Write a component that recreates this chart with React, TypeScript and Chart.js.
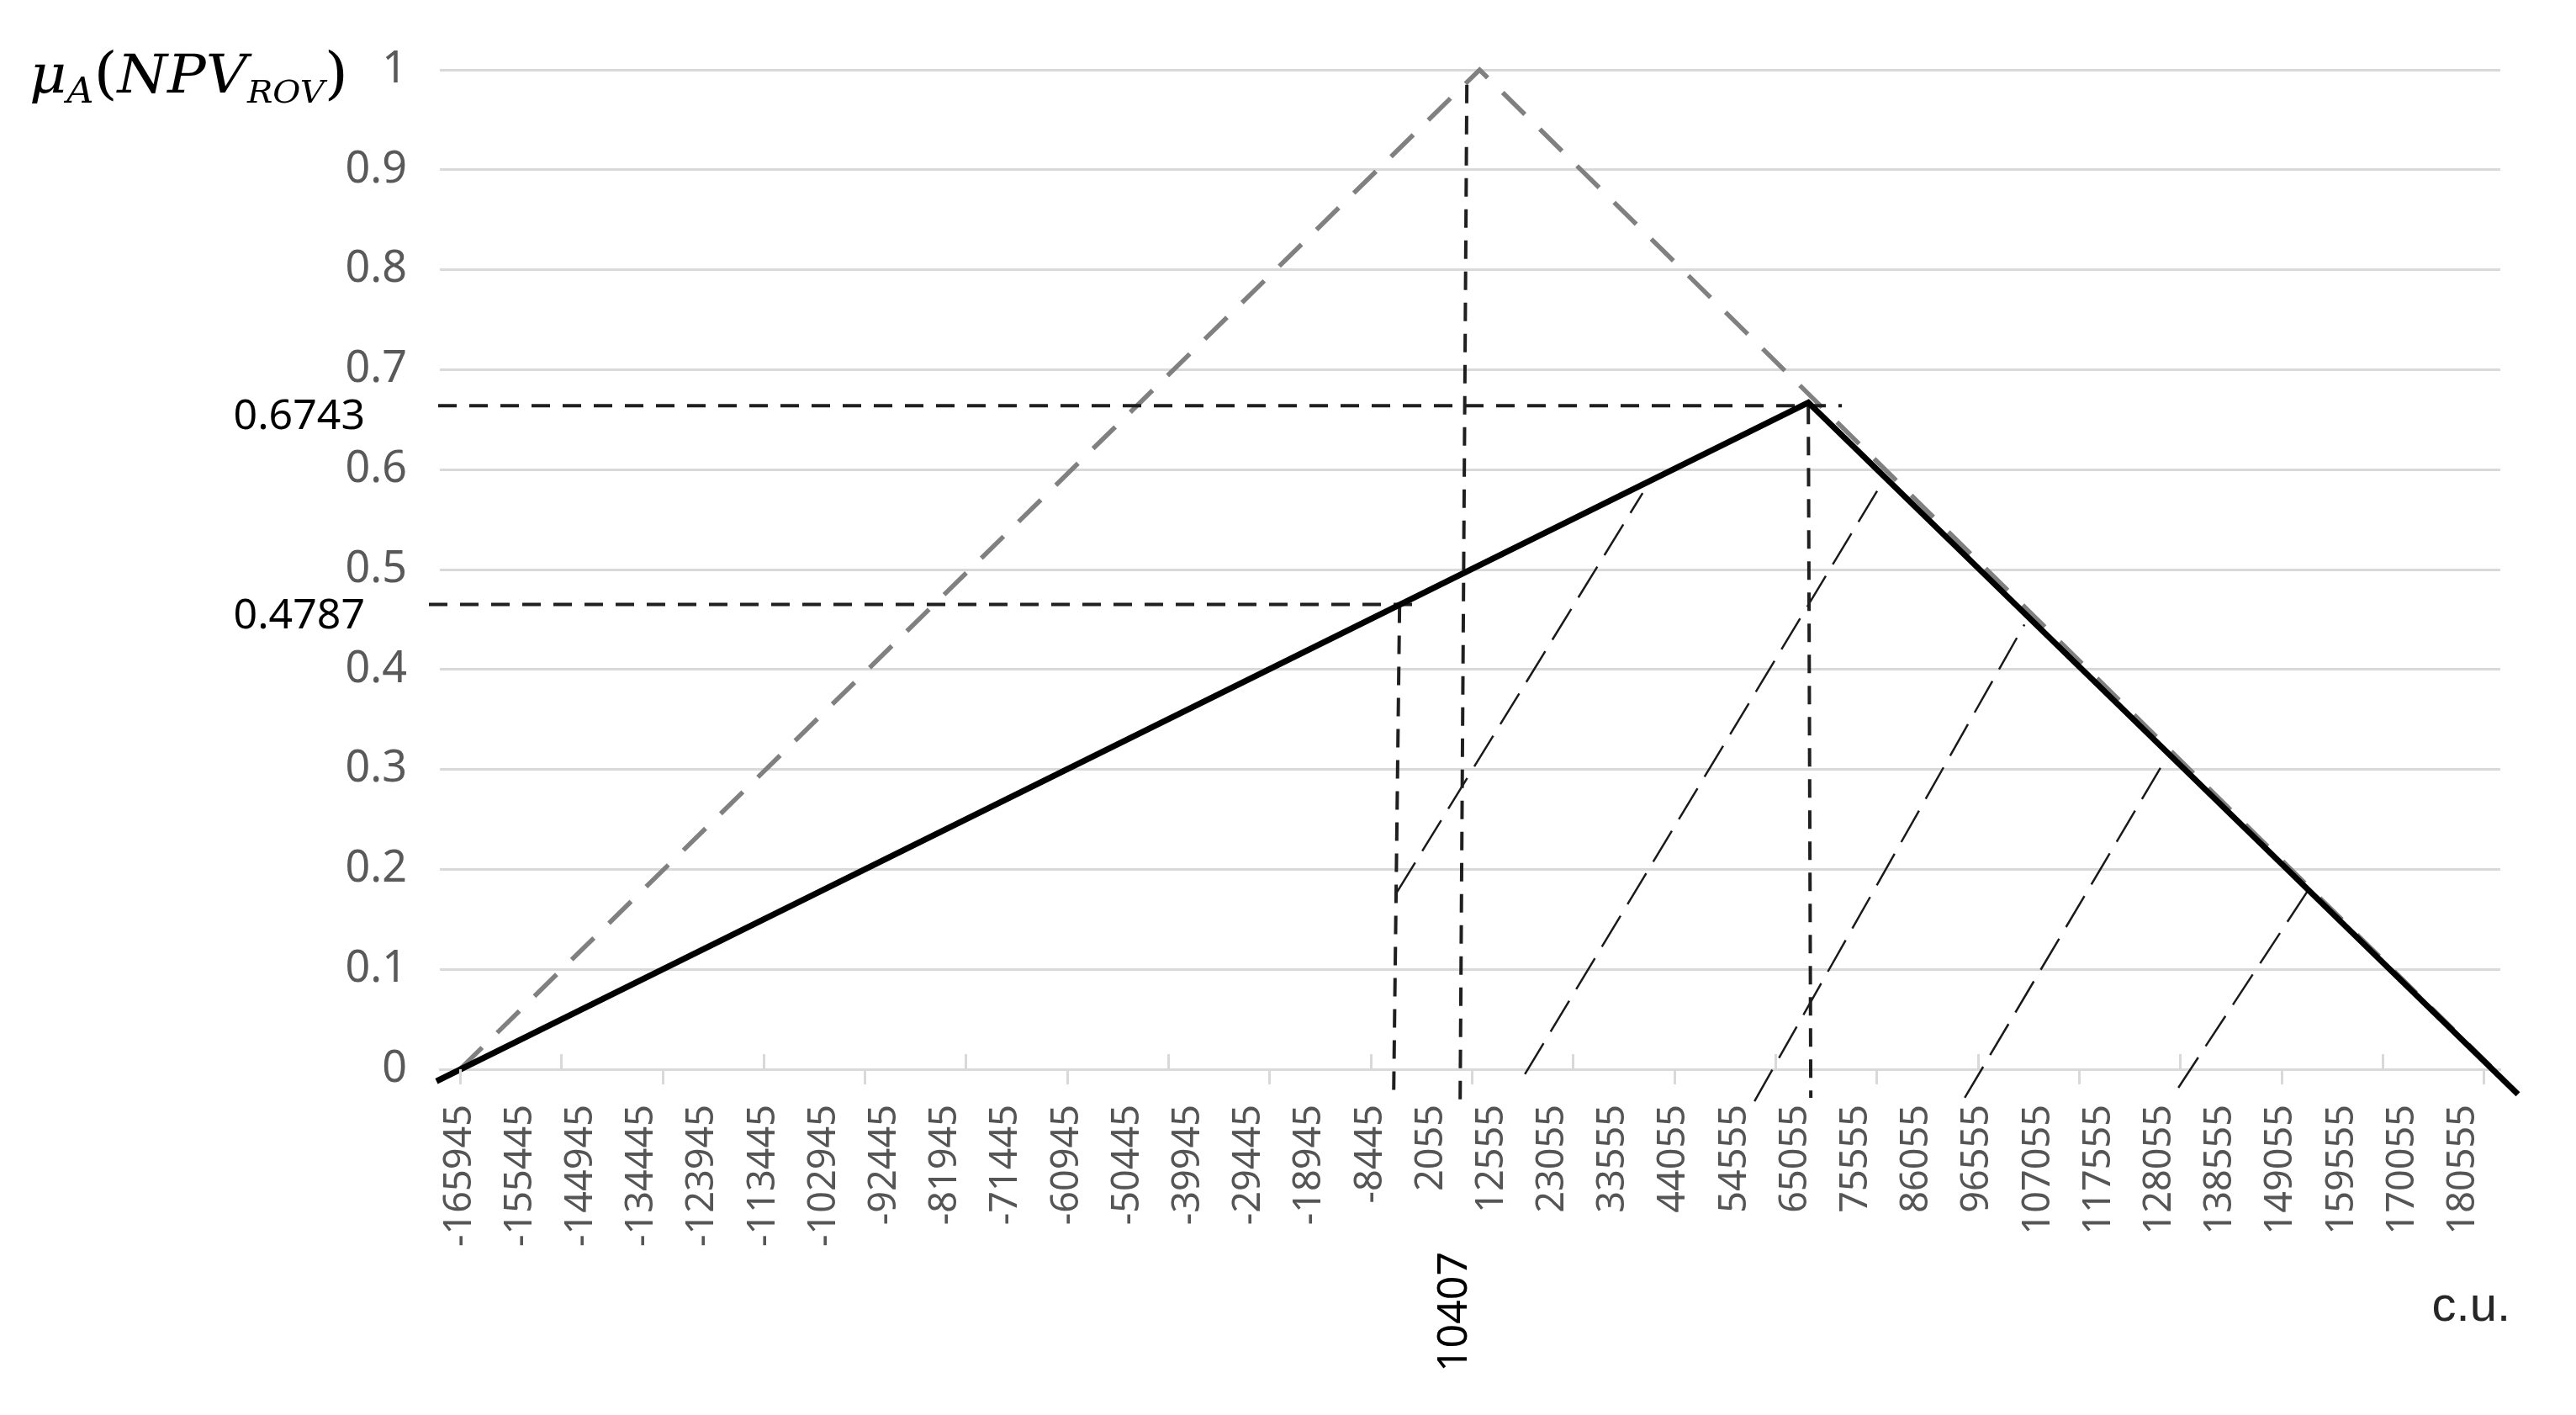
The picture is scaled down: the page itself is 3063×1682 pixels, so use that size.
import React, { useEffect, useRef } from "react";
import { Chart, registerables } from "chart.js";

Chart.register(...registerables);

// x-axis tick labels (c.u.)
const xTickValues = [
  -165945, -155445, -144945, -134445, -123945, -113445, -102945, -92445, -81945,
  -71445, -60945, -50445, -39945, -29445, -18945, -8445, 2055, 12555, 23055,
  33555, 44055, 54555, 65055, 75555, 86055, 96555, 107055, 117555, 128055,
  138555, 149055, 159555, 170055, 180555,
];
// small alternating tick marks on the horizontal axis
const minorTickValues = [
  -165945, -148445, -130945, -113445, -95945, -78445, -60945, -43445, -25945,
  -8445, 9055, 26555, 44055, 61555, 79055, 96555, 114055, 131555, 149055,
  166555, 184055,
];

// grey dashed triangle (initial fuzzy number)
const wideX = [-165945, 10407, 185800];
const wideY = [0, 1, 0];
// black solid triangle (resulting fuzzy number)
const resultX = [-170000, 67262, 190000];
const resultY = [-0.012, 0.667, -0.025];

// guide lines
const guideTopX = [-169709, 73073];
const guideTopY = [0.664, 0.664];
const guideLowX = [-171309, -669];
const guideLowY = [0.4651, 0.4651];
const vertLowX = [-3429, -4447];
const vertLowY = [0.4651, -0.0227];
const vertPeakX = [8207, 7043];
const vertPeakY = [0.985, -0.0345];
const vertTopX = [67262, 67693];
const vertTopY = [0.664, -0.0286];

// hatching lines
const hatchX = [
  [-4011, 38608],
  [18244, 80353],
  [57953, 104644],
  [94317, 129080],
  [131262, 153807],
];
const hatchY = [
  [0.176, 0.5765],
  [-0.005, 0.59],
  [-0.032, 0.445],
  [-0.0286, 0.3105],
  [-0.0185, 0.18],
];

const annotationTop = "0.6743";
const annotationLow = "0.4787";
const annotationPeak = "10407";

const pts = (xs: number[], ys: number[]) => xs.map((x, i) => ({ x, y: ys[i] }));

const W = 3063;
const H = 1682;

export default function App() {
  const ref = useRef<HTMLCanvasElement | null>(null);

  useEffect(() => {
    const canvas = ref.current;
    if (!canvas) return;

    const guide = (data: any, width = 4) => ({
      data,
      showLine: true,
      borderColor: "#1f1f1f",
      borderWidth: width,
      borderDash: [22, 15],
      pointRadius: 0,
      clip: false as any,
      fill: false,
      tension: 0,
    });

    const datasets: any[] = [
      {
        data: pts(resultX, resultY),
        showLine: true,
        borderColor: "#000000",
        borderWidth: 7,
        pointRadius: 0,
        clip: false,
        tension: 0,
      },
      guide(pts(guideTopX, guideTopY)),
      guide(pts(guideLowX, guideLowY)),
      guide(pts(vertLowX, vertLowY)),
      guide(pts(vertPeakX, vertPeakY)),
      guide(pts(vertTopX, vertTopY)),
      ...hatchX.map((xs, i) => ({
        data: pts(xs, hatchY[i]),
        showLine: true,
        borderColor: "#1a1a1a",
        borderWidth: 2.5,
        borderDash: [43, 16],
        pointRadius: 0,
        clip: false,
        tension: 0,
      })),
      {
        data: pts(wideX, wideY),
        showLine: true,
        borderColor: "#808080",
        borderWidth: 5.5,
        borderDash: [37, 25],
        pointRadius: 0,
        clip: false,
        tension: 0,
      },
    ];

    const textPlugin = {
      id: "texts",
      afterDraw(chart: any) {
        const ctx = chart.ctx as CanvasRenderingContext2D;
        const xs = chart.scales.x;
        const ys = chart.scales.y;
        const bottom = chart.chartArea.bottom;
        ctx.save();

        // minor tick marks, alternating below / above the axis
        ctx.strokeStyle = "#d9d9d9";
        ctx.lineWidth = 3;
        minorTickValues.forEach((v, i) => {
          const px = Math.round(xs.getPixelForValue(v)) + 0.5;
          ctx.beginPath();
          ctx.moveTo(px, bottom);
          ctx.lineTo(px, i % 2 === 0 ? bottom + 18 : bottom - 18);
          ctx.stroke();
        });

        // annotation values
        ctx.fillStyle = "#000000";
        ctx.font = '50px "Noto Sans"';
        ctx.textAlign = "right";
        ctx.textBaseline = "middle";
        ctx.fillText(annotationTop, 434, ys.getPixelForValue(guideTopY[0]) + 14);
        ctx.fillText(annotationLow, 434, ys.getPixelForValue(guideLowY[0]) + 14);

        // 10407 rotated under the axis
        ctx.save();
        ctx.translate(xs.getPixelForValue(vertPeakX[1]) - 6, 1488);
        ctx.rotate(-Math.PI / 2);
        ctx.textAlign = "right";
        ctx.textBaseline = "middle";
        ctx.font = '50px "Noto Sans"';
        ctx.fillText(annotationPeak, 0, 0);
        ctx.restore();

        // c.u.
        ctx.fillStyle = "#262626";
        ctx.font = '58px "Liberation Sans"';
        ctx.textAlign = "right";
        ctx.textBaseline = "alphabetic";
        ctx.fillText("c.u.", 2985, 1570);

        // y-axis title mu_A(NPV_ROV), fitted into its box
        ctx.fillStyle = "#000000";
        ctx.textAlign = "left";
        const parts: [string, string, number][] = [
          ["\u03bc", 'italic 64px "DejaVu Serif"', 0],
          ["A", 'italic 42px "DejaVu Serif"', 12],
          ["(", '68px "DejaVu Serif"', 0],
          ["NPV", 'italic 64px "DejaVu Serif"', 0],
          ["ROV", 'italic 38px "DejaVu Serif"', 12],
          [")", '68px "DejaVu Serif"', 0],
        ];
        let total = 0;
        parts.forEach(([t, f]) => {
          ctx.font = f;
          total += ctx.measureText(t).width;
        });
        ctx.save();
        ctx.translate(35, 110);
        ctx.scale(379 / total, 1);
        let x = 0;
        parts.forEach(([t, f, dy]) => {
          ctx.font = f;
          ctx.fillText(t, x, dy);
          x += ctx.measureText(t).width;
        });
        ctx.restore();

        ctx.restore();
      },
    };

    const chart = new Chart(canvas, {
      type: "scatter",
      data: { datasets },
      options: {
        animation: false,
        responsive: false,
        devicePixelRatio: 1,
        events: [],
        layout: { padding: { top: 83, right: 90, left: 0, bottom: 0 } },
        plugins: { legend: { display: false }, tooltip: { enabled: false } },
        scales: {
          x: {
            type: "linear",
            min: -169418,
            max: 186945,
            afterBuildTicks: (scale: any) => {
              scale.ticks = xTickValues.map((v) => ({ value: v }));
            },
            afterFit: (scale: any) => {
              scale.height = H - 1271;
            },
            grid: { display: false, drawTicks: false },
            border: { display: true, color: "#d9d9d9", width: 3 },
            ticks: {
              autoSkip: false,
              maxRotation: 90,
              minRotation: 90,
              padding: 42,
              color: "#555555",
              font: { family: "Noto Sans", size: 45 },
              callback: (v: any) => String(v),
            },
          },
          y: {
            type: "linear",
            min: 0,
            max: 1,
            afterFit: (scale: any) => {
              scale.width = 523;
            },
            grid: { color: "#d9d9d9", lineWidth: 3, drawTicks: false },
            border: { display: false },
            ticks: {
              stepSize: 0.1,
              padding: 39,
              color: "#595959",
              font: { family: "Noto Sans", size: 52 },
              callback: (v: any) => String(Math.round(Number(v) * 10) / 10),
            },
          },
        },
      },
      plugins: [textPlugin],
    });

    return () => chart.destroy();
  }, []);

  return (
    <div style={{ position: "absolute", left: 0, top: 0, width: W, height: H, background: "#fff" }}>
      <canvas ref={ref} width={W} height={H} style={{ width: W, height: H, display: "block" }} />
    </div>
  );
}
